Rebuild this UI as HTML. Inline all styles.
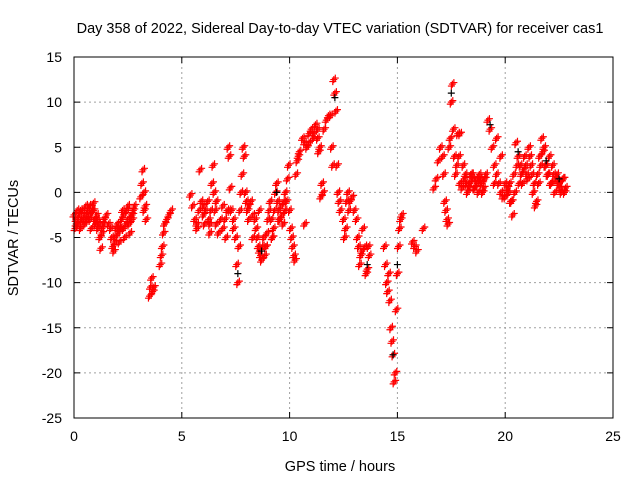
<!DOCTYPE html>
<html><head><meta charset="utf-8"><style>
body{margin:0;background:#fff;}
svg text{font-family:"Liberation Sans",sans-serif;fill:#000;}
</style></head><body>
<svg id="chart" width="640" height="480" xmlns="http://www.w3.org/2000/svg"></svg>
<script>
const xTicks=[0,5,10,15,20,25];
const yTicks=[15,10,5,0,-5,-10,-15,-20,-25];
const times=[0,0.05,0.1,0.15,0.2,0.25,0.3,0.35,0.4,0.45,0.5,0.55,0.6,0.65,0.7,0.75,0.8,0.85,0.9,0.95,1.0,1.05,1.1,1.15,1.2,1.25,1.3,1.35,1.4,1.5,1.6,
1.7,1.75,1.8,1.85,1.9,1.95,2.0,2.05,2.1,2.15,2.2,2.25,2.3,2.35,2.4,2.45,2.5,2.55,2.6,2.65,2.7,2.75,2.8,3.1,3.15,3.2,3.25,3.3,3.35,3.25,
3.5,3.55,3.6,3.65,3.7,4.0,4.05,4.1,4.15,4.2,4.3,4.4,4.5,
5.4,5.5,5.6,5.7,5.8,5.85,5.9,6.0,6.05,6.1,6.2,6.25,6.3,6.35,6.4,6.45,6.5,6.55,6.6,6.7,6.8,6.9,7.0,7.05,7.1,7.15,7.2,7.25,7.3,7.4,7.5,7.55,7.6,7.65,7.7,7.75,7.8,7.85,7.9,7.95,8.0,8.05,8.1,8.2,8.3,8.4,8.45,8.5,8.55,8.6,8.65,8.7,8.75,8.8,8.85,8.9,8.95,9.0,9.05,9.1,9.15,9.2,9.25,9.3,9.35,9.4,9.45,9.5,9.55,9.6,9.65,9.7,9.75,9.8,9.85,9.9,9.95,10.0,10.05,10.1,10.15,10.2,10.25,10.3,10.35,10.4,10.45,
10.6,10.7,10.8,10.9,11.0,11.1,11.2,11.3,11.35,11.4,11.45,11.5,11.55,11.6,11.7,11.8,11.9,11.95,12.0,12.05,12.1,12.15,12.2,12.25,12.3,12.35,
12.5,12.55,12.6,12.65,12.7,12.75,12.8,12.9,13.0,13.1,13.15,13.2,13.25,13.3,13.35,13.4,13.5,13.55,13.6,13.65,13.7,
14.4,14.45,14.5,14.55,14.6,14.65,14.7,14.75,14.8,14.85,14.9,14.95,15.0,15.05,15.1,15.15,15.2,
15.7,15.8,15.9,16.2,
16.7,16.8,16.9,17.0,17.1,17.15,17.2,17.25,17.3,17.35,17.4,17.45,17.5,17.55,17.6,17.65,17.7,17.75,17.8,17.85,17.9,18.0,18.1,18.2,18.3,18.4,18.5,18.6,18.7,18.8,18.9,19.0,19.1,19.2,19.3,19.4,19.5,19.6,19.7,19.8,19.9,20.0,20.1,20.2,20.3,20.35,20.4,20.5,20.6,20.7,20.8,20.9,21.0,21.1,21.2,21.3,21.4,21.5,21.6,21.7,21.8,21.9,22.0,22.1,22.2,22.3,22.4,22.5,22.6,22.7,22.8,
0.1,0.3,0.5,0.7,0.9,1.1,1.3,1.9,2.1,2.3,2.5,2.7,5.7,6.0,6.3,6.6,6.9,7.2,7.4,8.1,8.3,8.6,8.9,9.2,9.5,9.8,10.7,10.9,11.1,11.3,
17.9,18.05,18.15,18.25,18.35,18.45,18.55,18.65,18.75,18.85,18.95,19.05,19.5,19.6,19.8,20.0,20.15,20.25,20.45,20.55,20.65,20.75,20.85,20.95,21.05,21.15,21.25,21.35,21.45,21.55,21.65,21.75,21.85,21.95,22.05,22.15,22.25,22.35,22.45,22.55,22.65,22.75];
const values=[-2.5,-4,-3,-2,-3.5,-2.5,-4,-3,-2,-3,-2.5,-1.5,-3,-2,-1.5,-3,-4,-2,-1.2,-3,-3.5,-2.5,-4,-3.5,-5,-6.2,-4.5,-3.5,-3,-2.5,-3.5,
-4,-5,-6,-6.5,-5,-4,-3.5,-4.5,-5.5,-4,-3,-2,-4,-5,-3.5,-2,-1.5,-3.5,-4.5,-2.5,-3,-2,-1.5,-0.5,1,2.5,0,-1.5,-3,-2,
-11.5,-10.5,-9.5,-11,-10.5,-8,-7,-6,-4.5,-3.5,-3,-2.5,-2,
-0.3,-1.5,-3,-4,-2,2.5,-1,-2.5,-3.5,-2,-1,-3,-4.5,-2,1,3,0,-2,-3.5,-4.5,-3,-1.5,-3,-5,-2,5,4,0.5,-2,-3,-5,-8,-10,-6,-2,0,2,5,4,0,-1,-2,-3,-1,-2.5,-3,-4,-5,-6,-6.5,-7,-7.5,-6,-5,-7,-6,-4.5,-3,-2,-1,-3,-5,-4,-2,0,1,-1,-2,-3,-1.5,-2.5,-3.5,-1,0,-1,1.5,3,-2,-4,-5,-6,-7,-7.5,2,3.5,4,4.5,
6,5.5,5,6.5,7,6.5,7.5,6,4.5,5,-0.5,1,0,7,8,8.5,8.5,5,3,12.5,11,9,3,0,-1,-2,
-3,-5,-4,-1,0,-2,-1,-0.5,-2,-3,-5,-6,-8,-7,-6.5,-4,-6,-9,-8.5,-6,-7,
-6,-8,-10,-11,-9,-12,-15,-16.5,-18,-21,-20,-13,-9,-6,-4,-3,-2.5,
-5.5,-6,-6.5,-4,
0.5,1.5,3.5,5,4,2,-1,-2,-3,-3.5,5,6,10,12,7,4,2,3,6.5,4,1,0.5,1.5,1,0.5,2,1.5,0.5,1,2,1,0.5,2,8,7,5,3,2,1,0,-0.5,-0.5,0.5,1,-1,-2.5,2,5.5,4,3,1,4,2,5,3,0,-1.5,2,4,6,5,3,2,1,3,0,2,1,0,1.5,0.5,
-3.5,-2,-3.5,-2.5,-2,-3,-4,-5.5,-4,-2.5,-3,-2.5,-3.5,-1.5,-3.5,-1,-4,-2,-4,-1.5,-5,-2,-6,-5,-3,-2,-3.5,5.5,6,7,6.5,
3,2,0,1,2,0.5,1.5,0,1.5,0,1.5,1,6,4,1,0,-1,0,3,1,2,2.5,3,1.5,4,2,1,-1,1,3,4.5,3,2,4,1,2,1.5,1,0.5,1.5,0,1];
const blackTimes=[7.6,8.7,9.4,12.1,13.6,14.8,15.0,17.5,19.3,20.6,21.9,22.5];
const blackValues=[-9,-6.5,0,10.5,-8,-18,-8,11,7.5,4.5,3.5,1.5];

const NS="http://www.w3.org/2000/svg";
const svg=document.getElementById('chart');
const L=74,R=613,T=57,B=418;
const xs=v=>L+(v-0)/25*(R-L);
const ys=v=>T+(15-v)/40*(B-T);
function mk(tag,attrs,parent){const e=document.createElementNS(NS,tag);for(const k in attrs)e.setAttribute(k,attrs[k]);(parent||svg).appendChild(e);return e;}

const title=mk('text',{x:340,y:33,'text-anchor':'middle','font-size':'14.5'});


title.textContent='Day 358 of 2022, Sidereal Day-to-day VTEC variation (SDTVAR) for receiver cas1';

const grid=mk('g',{});


xTicks.forEach(t=>{
  if(t>0&&t<25)mk('line',{x1:xs(t),x2:xs(t),y1:T,y2:B,stroke:'#a0a0a0','stroke-dasharray':'2,3'},grid);
  mk('line',{x1:xs(t),x2:xs(t),y1:B,y2:B-6,stroke:'#000'},grid);
  mk('line',{x1:xs(t),x2:xs(t),y1:T,y2:T+6,stroke:'#000'},grid);
  const lb=mk('text',{x:xs(t),y:B+23,'text-anchor':'middle','font-size':'14'});
  
  
  lb.textContent=t;
});
yTicks.forEach(t=>{
  if(t>-25&&t<15)mk('line',{x1:L,x2:R,y1:ys(t),y2:ys(t),stroke:'#a0a0a0','stroke-dasharray':'2,3'},grid);
  mk('line',{x1:L,x2:L+6,y1:ys(t),y2:ys(t),stroke:'#000'},grid);
  mk('line',{x1:R,x2:R-6,y1:ys(t),y2:ys(t),stroke:'#000'},grid);
  const lb=mk('text',{x:L-12,y:ys(t)+5,'text-anchor':'end','font-size':'14'});
  
  
  lb.textContent=t;
});

function plus(g,x,y,col){mk('path',{d:`M${x-3.5},${y}h7M${x},${y-3.5}v7`,stroke:col,'stroke-width':1.2,fill:'none'},g);}
const red=mk('g',{});


times.forEach((t,i)=>{const x=xs(t),y=ys(values[i]);plus(red,x,y,'#ff0000');plus(red,x+1.5,y-1.5,'#ff0000');plus(red,x-1,y+2,'#ff0000');});
const blk=mk('g',{});


blackTimes.forEach((t,i)=>plus(blk,xs(t),ys(blackValues[i]),'#000'));

const frame=mk('rect',{x:L,y:T,width:R-L,height:B-T,fill:'none',stroke:'#000'});



const xt=mk('text',{x:340,y:471,'text-anchor':'middle','font-size':'14.5'});


xt.textContent='GPS time / hours';
const yt=mk('text',{x:0,y:0,'text-anchor':'middle','font-size':'14.5',transform:'translate(18,238) rotate(-90)'});


yt.textContent='SDTVAR / TECUs';
</script>
</body></html>
